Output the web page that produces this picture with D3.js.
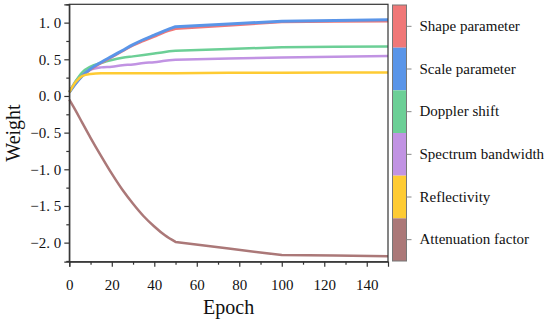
<!DOCTYPE html>
<html><head><meta charset="utf-8">
<script src="https://cdn.jsdelivr.net/npm/d3@7"></script>
<style>body{margin:0;background:#fff}svg{display:block}</style>
</head><body>
<svg id="c" width="550" height="325"></svg>
<script>
const epochs = [0,3,6,10,15,20,25,30,35,40,45,50,75,100,125,150];
const shape  = [0.05,0.17,0.27,0.36,0.45,0.53,0.61,0.69,0.75,0.81,0.87,0.915,0.96,1.01,1.015,1.02];
const scale  = [0.05,0.17,0.27,0.37,0.46,0.54,0.62,0.70,0.77,0.83,0.89,0.945,0.98,1.02,1.03,1.04];
const doppler= [0.05,0.20,0.32,0.40,0.45,0.49,0.52,0.54,0.56,0.58,0.60,0.615,0.64,0.665,0.67,0.675];
const bandw  = [0.05,0.20,0.30,0.36,0.39,0.40,0.42,0.43,0.45,0.46,0.48,0.495,0.51,0.525,0.535,0.545];
const reflect= [0.05,0.19,0.27,0.30,0.31,0.31,0.31,0.31,0.31,0.31,0.31,0.31,0.315,0.315,0.32,0.32];
const atten  = [-0.05,-0.20,-0.36,-0.57,-0.82,-1.06,-1.28,-1.47,-1.64,-1.78,-1.90,-1.99,-2.08,-2.17,-2.175,-2.185];
const seriesNames = ["Shape parameter","Scale parameter","Doppler shift","Spectrum bandwidth","Reflectivity","Attenuation factor"];
const seriesColors = ["#f07878","#5a95e8","#6ccf96","#c193e3","#fecb33","#ab7878"];
const seriesValues = [shape, scale, doppler, bandw, reflect, atten];
const xTicks = [0,20,40,60,80,100,120,140];
const yTicks = [-2.0,-1.5,-1.0,-0.5,0.0,0.5,1.0];

const svg = d3.select("#c");
const L=69.3, R=388, T=4.3, B=261.7;
const x = d3.scaleLinear().domain([0,150]).range([L,R]);
const y = d3.scaleLinear().domain([-2.26,1.25]).range([B,T]);
const font = "'Liberation Serif','Times New Roman',serif";

// lines (draw order); smooth up to epoch 50, straight segments after
const order = [5,3,2,0,1,4];
const kink = epochs.indexOf(50);
const smooth = d3.line().x(d=>x(d[0])).y(d=>y(d[1])).curve(d3.curveMonotoneX);
const straight = d3.line().x(d=>x(d[0])).y(d=>y(d[1]));
order.forEach(k=>{
  const pts = epochs.map((e,i)=>[e, seriesValues[k][i]]);
  const d = smooth(pts.slice(0,kink+1)) + straight(pts.slice(kink)).replace(/^M/,"L");
  svg.append("path").attr("d", d)
    .attr("fill","none").attr("stroke",seriesColors[k])
    .attr("stroke-width", k===1?3:2.5).attr("stroke-linejoin","round");
});

// frame
svg.append("rect").attr("x",L).attr("y",T).attr("width",R-L).attr("height",B-T)
  .attr("fill","none").attr("stroke","#333").attr("stroke-width",1.2);

const fmt = v => (v<0?"\u2212":"") + d3.format(".1f")(Math.abs(v)).replace(".",". ");
// y axis
svg.append("g").attr("transform",`translate(${L},0)`)
  .call(d3.axisLeft(y).tickValues(yTicks).tickFormat(fmt).tickSize(5).tickPadding(3));
svg.append("g").attr("transform",`translate(${L},0)`)
  .call(d3.axisLeft(y).tickValues(d3.range(-2.25,1.26,0.25).filter(v=>Math.abs(v*2-Math.round(v*2))>0.01)).tickFormat("").tickSize(3))
  .call(g=>g.select(".domain").remove());
// x axis
svg.append("g").attr("transform",`translate(0,${B})`)
  .call(d3.axisBottom(x).tickValues(xTicks).tickSize(5).tickPadding(13));
svg.append("g").attr("transform",`translate(0,${B})`)
  .call(d3.axisBottom(x).tickValues(d3.range(10,150,20)).tickFormat("").tickSize(3))
  .call(g=>g.select(".domain").remove());
svg.selectAll(".tick line").attr("stroke","#333").attr("stroke-width",1.2);
svg.selectAll(".domain").attr("stroke","#333").attr("stroke-width",1.2);
svg.selectAll("g").attr("font-family",font);
svg.selectAll(".tick text").attr("font-family",font).attr("font-size",15).attr("fill","#111");

svg.append("text").attr("x",(L+R)/2).attr("y",314).attr("text-anchor","middle")
  .attr("font-family",font).attr("font-size",20).attr("fill","#111").text("Epoch");
svg.append("text").attr("transform",`translate(20,${(T+B)/2}) rotate(-90)`).attr("text-anchor","middle")
  .attr("font-family",font).attr("font-size",20).attr("fill","#111").text("Weight");

// color bar legend
const cb = d3.scaleBand().domain(seriesNames).range([5,261]);
const cx0=392.5, cw=14;
svg.selectAll(".seg").data(seriesNames).join("rect")
  .attr("x",cx0).attr("y",d=>cb(d)).attr("width",cw).attr("height",cb.bandwidth())
  .attr("fill",(d,i)=>seriesColors[i]);
svg.append("rect").attr("x",cx0).attr("y",5).attr("width",cw).attr("height",256)
  .attr("fill","none").attr("stroke","#777").attr("stroke-width",1);
const lg = svg.append("g").attr("transform",`translate(${cx0+cw},0)`).attr("font-family",font)
  .call(d3.axisRight(cb).tickSize(5).tickPadding(8));
lg.select(".domain").remove();
lg.selectAll(".tick line").attr("stroke","#888");
lg.selectAll(".tick text").attr("font-family",font).attr("font-size",15).attr("fill","#111");
</script>
</body></html>
